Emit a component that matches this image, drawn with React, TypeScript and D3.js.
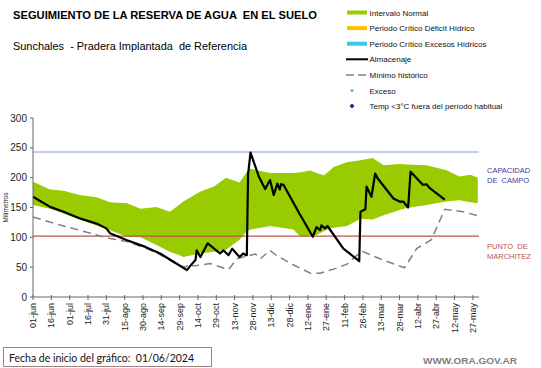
import React from "react";
import * as d3 from "d3";

// días desde la fecha de inicio (01/06/2024)
const bandDays = [0, 14, 25, 38, 52, 63, 77, 88, 101, 112, 120, 123, 137, 148, 158, 169, 175, 178, 194, 213, 219, 227, 232, 238, 243, 246, 257, 268, 278, 287, 300, 306, 322, 338, 349, 358, 364];
const bandUpper = [193, 180, 178, 171, 167, 159, 157, 148, 151, 143, 155, 160, 177, 185, 200, 192, 210, 215, 208, 208, 209, 212, 208, 204, 212, 218, 226, 229, 233, 221, 223, 222, 221, 213, 202, 205, 200];
const bandLower = [154, 148, 140, 130, 120, 112, 101, 100, 87, 76, 70, 67, 73, 76, 79, 96, 110, 113, 119, 113, 101, 103, 104, 110, 115, 116, 119, 131, 130, 137, 146, 149, 154, 160, 162, 159, 157];

const almDays = [0, 14, 25, 38, 52, 60, 63, 77, 92, 104, 115, 126, 129, 133, 134, 137, 143, 153, 156, 160, 163, 169, 172, 174, 175, 176, 178, 185, 190, 194, 197, 200, 202, 203, 205, 218, 229, 232, 235, 236, 239, 241, 254, 259, 267, 268, 272, 273, 277, 280, 282, 295, 300, 303, 307, 309, 319, 322, 325, 337];
const almValues = [168, 151, 143, 132, 123, 115, 107, 95, 84, 73, 59, 45, 53, 62, 78, 67, 90, 73, 78, 70, 81, 67, 73, 70, 70, 205, 242, 201, 181, 196, 171, 190, 180, 189, 188, 140, 101, 117, 112, 120, 115, 119, 81, 73, 60, 143, 147, 185, 168, 207, 199, 165, 160, 160, 150, 210, 188, 189, 182, 163];

const minDays = [0, 25, 38, 52, 63, 77, 92, 104, 115, 124, 126, 129, 131, 145, 160, 167, 172, 178, 182, 186, 194, 199, 213, 227, 235, 248, 257, 265, 270, 284, 304, 314, 326, 337, 344, 352, 364];
const minValues = [134, 119, 112, 104, 98, 93, 82, 71, 58, 50, 52, 56, 52, 56, 46, 64, 67, 70, 72, 64, 78, 70, 54, 40, 40, 48, 55, 70, 76, 64, 49, 81, 96, 147, 145, 143, 136];

const CAPACIDAD = 243;
const MARCHITEZ = 102;
const yTicks = [0, 50, 100, 150, 200, 250, 300];
const xTickDays = d3.range(0, 361, 15);
const meses = ["ene", "feb", "mar", "abr", "may", "jun", "jul", "ago", "sep", "oct", "nov", "dic"];

const legendItems = [
  { label: "Intervalo Normal", kind: "band", color: "#99CC00" },
  { label: "Periodo Crítico Déficit Hídrico", kind: "band", color: "#FFC000" },
  { label: "Periodo Crítico Excesos Hídricos", kind: "band", color: "#33CCEE" },
  { label: "Almacenaje", kind: "line", color: "#000" },
  { label: "Mínimo histórico", kind: "dash", color: "#808080" },
  { label: "Exceso", kind: "dot", color: "#33CCEE" },
  { label: "Temp <3°C fuera del período habitual", kind: "diamond", color: "#1F1F9F" },
];

const START = new Date(2024, 5, 1);
const END = new Date(2025, 5, 1);
const FONT = "Liberation Sans, Arial, sans-serif";

export default function App() {
  const x = d3.scaleTime().domain([START, END]).range([33, 479]);
  const y = d3.scaleLinear().domain([0, 300]).range([297, 118]);
  const dx = (d: number) => x(d3.timeDay.offset(START, d));

  const band = d3.area<number>()
    .x((d) => dx(bandDays[d]))
    .y0((d) => y(bandLower[d]))
    .y1((d) => y(bandUpper[d]));
  const line = d3.line<[number, number]>().x((d) => dx(d[0])).y((d) => y(d[1]));

  const alm = almDays.map((d, i) => [d, almValues[i]] as [number, number]);
  const min = minDays.map((d, i) => [d, minValues[i]] as [number, number]);
  const fmt = (d: number) => {
    const dt = d3.timeDay.offset(START, d);
    return d3.timeFormat("%d")(dt) + "-" + meses[dt.getMonth()];
  };

  return (
    <svg width={541} height={368} style={{ position: "absolute", left: 0, top: 0, background: "#fff" }} fontFamily={FONT}>
      <text xmlSpace="preserve" x={13} y={19} fontSize={10.5} fontWeight="bold" textLength={304} lengthAdjust="spacingAndGlyphs">SEGUIMIENTO DE LA RESERVA DE AGUA  EN EL SUELO</text>
      <text xmlSpace="preserve" x={13} y={50} fontSize={11.5} textLength={234} lengthAdjust="spacingAndGlyphs">Sunchales  - Pradera Implantada  de Referencia</text>

      {legendItems.map((it, i) => {
        const cy = 12.5 + i * 15.6;
        let sw: React.ReactNode = null;
        if (it.kind === "band") sw = <rect x={347} y={cy - 2} width={20} height={4} fill={it.color} />;
        if (it.kind === "line") sw = <line x1={346} x2={368} y1={cy} y2={cy} stroke="#000" strokeWidth={2} />;
        if (it.kind === "dash") sw = <line x1={346} x2={368} y1={cy} y2={cy} stroke={it.color} strokeWidth={1.5} strokeDasharray="8,4" />;
        if (it.kind === "dot") sw = <circle cx={352} cy={cy} r={1.6} fill={it.color} />;
        if (it.kind === "diamond") sw = <path d={`M352,${cy - 2.5}L354.5,${cy}L352,${cy + 2.5}L349.5,${cy}Z`} fill={it.color} />;
        return (
          <g key={it.label}>
            {sw}
            <text x={369.5} y={cy + 3} fontSize={8} fill="#111">{it.label}</text>
          </g>
        );
      })}

      <path d={band(d3.range(bandDays.length)) || ""} fill="#99CC00" />

      <line x1={33} x2={479} y1={y(CAPACIDAD)} y2={y(CAPACIDAD)} stroke="#7F9FCC" strokeWidth={1.2} />
      <line x1={33} x2={479} y1={y(MARCHITEZ)} y2={y(MARCHITEZ)} stroke="#C0504D" strokeWidth={1.2} />

      <path d={line(min) || ""} fill="none" stroke="#808080" strokeWidth={1.5} strokeDasharray="8,5" />
      <path d={line(alm) || ""} fill="none" stroke="#000" strokeWidth={2.2} strokeLinejoin="round" />

      <line x1={33} x2={33} y1={y(300)} y2={y(0)} stroke="#666" />
      {yTicks.map((t) => (
        <g key={t}>
          <line x1={30} x2={33} y1={y(t)} y2={y(t)} stroke="#666" />
          <text x={27} y={y(t) + 3.5} fontSize={10} textAnchor="end" fill="#222">{t}</text>
        </g>
      ))}
      <text transform={`translate(8,${y(150)}) rotate(-90)`} fontSize={6.5} textAnchor="middle" fill="#222">Milímetros</text>

      <line x1={33} x2={479} y1={297} y2={297} stroke="#666" />
      {xTickDays.map((d) => (
        <g key={d}>
          <line x1={dx(d)} x2={dx(d)} y1={295} y2={300} stroke="#666" />
          <text transform={`translate(${dx(d)},303) rotate(-90)`} fontSize={9} textAnchor="end" dominantBaseline="central" fill="#222">{fmt(d)}</text>
        </g>
      ))}

      <text x={487} y={173} fontSize={7.5} fill="#3A3AA8">CAPACIDAD</text>
      <text xmlSpace="preserve" x={487} y={182.5} fontSize={7.5} fill="#3A3AA8">DE  CAMPO</text>
      <text xmlSpace="preserve" x={487} y={249} fontSize={7.5} fill="#C0504D">PUNTO  DE</text>
      <text x={487} y={258.5} fontSize={7.5} fill="#C0504D">MARCHITEZ</text>

      <rect x={3.5} y={347.5} width={208} height={19} fill="#fff" stroke="#9A8585" />
      <text xmlSpace="preserve" x={9} y={361.5} fontSize={10.5} fontFamily="Lato, Open Sans, sans-serif" fill="#111">Fecha de inicio del gráfico:  01/06/2024</text>
      <text x={423} y={364} fontSize={9.5} fontWeight="bold" fill="#808080" textLength={94} lengthAdjust="spacingAndGlyphs">WWW.ORA.GOV.AR</text>
    </svg>
  );
}
